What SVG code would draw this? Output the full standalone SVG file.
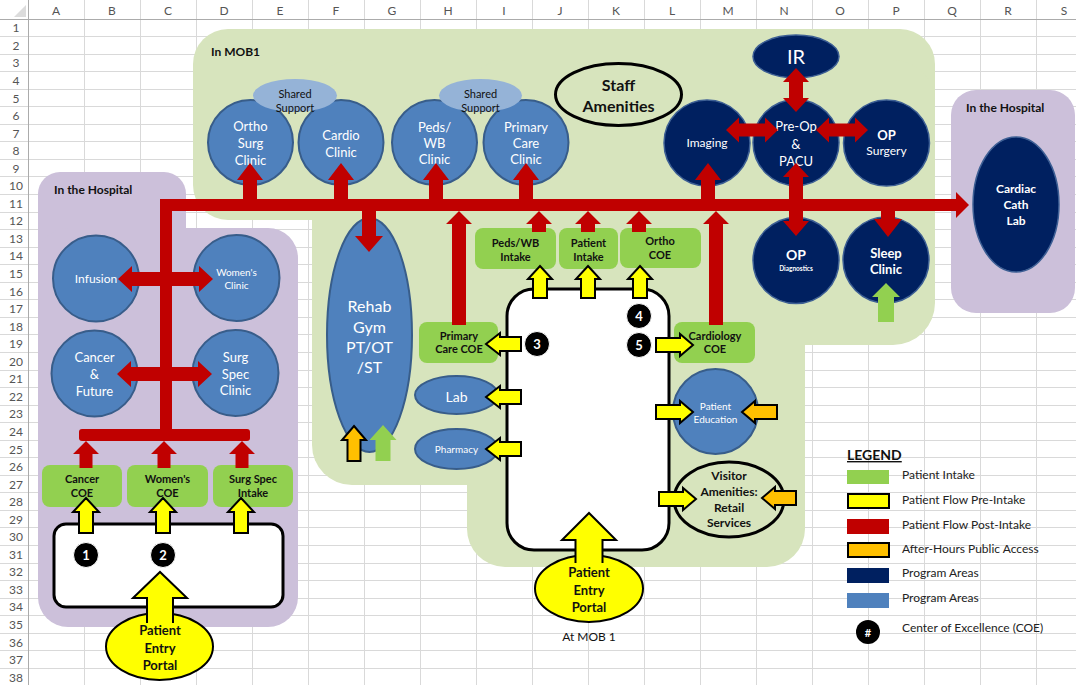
<svg xmlns="http://www.w3.org/2000/svg" width="1076" height="685" viewBox="0 0 1076 685">
<style>
text{font-family:Lato,"Liberation Sans",sans-serif;text-anchor:middle}
.hd{font-size:12px;fill:#555}
.w{fill:#fff}
.k{fill:#111}
.b{font-weight:bold}
.mb{fill:#4f81bd;stroke:#385d8a;stroke-width:2}
.nv{fill:#002060;stroke:#3d5f94;stroke-width:1.5}
.ss{fill:#95b3d7}
.gi{fill:#92d050}
.red{fill:#c00000}
.yel{fill:#ffff00;stroke:#000;stroke-width:2}
.ora{fill:#ffc000;stroke:#000;stroke-width:2}
.grn{fill:#92d050}
.wb{fill:#fff;stroke:#000;stroke-width:3}
.num{fill:#000;stroke:#fff;stroke-width:1}
.lg{font-size:12px;fill:#222;text-anchor:start}
</style>
<rect x="0" y="0" width="1076" height="685" fill="#fff"/>
<g id="grid">
<path d="M0,19.5H1076M0,36.5H1076M0,54.5H1076M0,71.5H1076M0,89.5H1076M0,106.5H1076M0,124.5H1076M0,141.5H1076M0,159.5H1076M0,176.5H1076M0,194.5H1076M0,212.5H1076M0,229.5H1076M0,247.5H1076M0,264.5H1076M0,282.5H1076M0,299.5H1076M0,317.5H1076M0,334.5H1076M0,352.5H1076M0,370.5H1076M0,387.5H1076M0,405.5H1076M0,422.5H1076M0,440.5H1076M0,457.5H1076M0,475.5H1076M0,492.5H1076M0,510.5H1076M0,527.5H1076M0,545.5H1076M0,563.5H1076M0,580.5H1076M0,598.5H1076M0,615.5H1076M0,633.5H1076M0,650.5H1076M0,668.5H1076" stroke="#d9d9d9" stroke-width="1"/>
<path d="M28.5,0V685M84.5,0V685M140.5,0V685M196.5,0V685M252.5,0V685M308.5,0V685M364.5,0V685M420.5,0V685M476.5,0V685M532.5,0V685M588.5,0V685M644.5,0V685M700.5,0V685M756.5,0V685M812.5,0V685M868.5,0V685M924.5,0V685M980.5,0V685M1036.5,0V685" stroke="#d9d9d9" stroke-width="1"/>
<path d="M0,19.5H1076M28.5,0V685" stroke="#ababab" stroke-width="1"/>
<polygon points="14,17 26,17 26,5" fill="#dcdcdc"/>
<g class="hd">
<text x="56" y="15">A</text><text x="112" y="15">B</text><text x="168" y="15">C</text><text x="224" y="15">D</text><text x="280" y="15">E</text><text x="336" y="15">F</text><text x="392" y="15">G</text><text x="448" y="15">H</text><text x="504" y="15">I</text><text x="560" y="15">J</text><text x="616" y="15">K</text><text x="672" y="15">L</text><text x="728" y="15">M</text><text x="784" y="15">N</text><text x="840" y="15">O</text><text x="896" y="15">P</text><text x="952" y="15">Q</text><text x="1008" y="15">R</text><text x="1064" y="15">S</text>
</g>
<g class="hd">
<text x="16" y="32.3">1</text><text x="16" y="49.8">2</text><text x="16" y="67.4">3</text><text x="16" y="84.9">4</text><text x="16" y="102.5">5</text><text x="16" y="120">6</text><text x="16" y="137.6">7</text><text x="16" y="155.1">8</text><text x="16" y="172.7">9</text><text x="16" y="190.2">10</text><text x="16" y="207.8">11</text><text x="16" y="225.3">12</text><text x="16" y="242.9">13</text><text x="16" y="260.4">14</text><text x="16" y="278">15</text><text x="16" y="295.5">16</text><text x="16" y="313.1">17</text><text x="16" y="330.6">18</text><text x="16" y="348.2">19</text><text x="16" y="365.7">20</text><text x="16" y="383.3">21</text><text x="16" y="400.8">22</text><text x="16" y="418.4">23</text><text x="16" y="435.9">24</text><text x="16" y="453.5">25</text><text x="16" y="471">26</text><text x="16" y="488.6">27</text><text x="16" y="506.1">28</text><text x="16" y="523.7">29</text><text x="16" y="541.2">30</text><text x="16" y="558.8">31</text><text x="16" y="576.3">32</text><text x="16" y="593.9">33</text><text x="16" y="611.4">34</text><text x="16" y="629">35</text><text x="16" y="646.5">36</text><text x="16" y="664.1">37</text><text x="16" y="681.6">38</text>
</g>
</g>
<g id="zones">
<g id="mob1-zone" fill="#d7e4bd">
<rect x="193" y="29" width="742" height="191" rx="35"/>
<rect x="312" y="60" width="623" height="285" rx="42"/>
<rect x="312" y="60" width="493" height="425" rx="40"/>
<rect x="467" y="60" width="338" height="507" rx="38"/>
</g>
<g id="hospital-left-zone" fill="#ccc0da">
<rect x="38" y="172" width="148" height="300" rx="22"/>
<rect x="38" y="228" width="260" height="399" rx="30"/>
</g>
<rect id="hospital-right-zone" x="951" y="90" width="124" height="223" rx="25" fill="#ccc0da"/>
<text class="b k" x="211" y="56" style="font-size:12px;text-anchor:start">In MOB1</text>
<text class="b k" x="54" y="194" style="font-size:12px;text-anchor:start">In the Hospital</text>
<text class="b k" x="966" y="112" style="font-size:12px;text-anchor:start">In the Hospital</text>
</g>
<g id="nodes">
<g id="ortho-surg-clinic"><circle class="mb" cx="250.5" cy="142.5" r="42.5"/><text class="w" style="font-size:13px"><tspan x="250.5" y="131">Ortho</tspan><tspan x="250.5" y="148">Surg</tspan><tspan x="250.5" y="165">Clinic</tspan></text></g>
<g id="cardio-clinic"><circle class="mb" cx="341" cy="142.5" r="42.5"/><text class="w" style="font-size:13px"><tspan x="341" y="139.5">Cardio</tspan><tspan x="341" y="156.5">Clinic</tspan></text></g>
<g id="peds-wb-clinic"><circle class="mb" cx="434.5" cy="142.5" r="42.5"/><text class="w" style="font-size:13px"><tspan x="434.5" y="131.5">Peds/</tspan><tspan x="434.5" y="148">WB</tspan><tspan x="434.5" y="163.5">Clinic</tspan></text></g>
<g id="primary-care-clinic"><circle class="mb" cx="526" cy="142.5" r="42.5"/><text class="w" style="font-size:13px"><tspan x="526" y="131.5">Primary</tspan><tspan x="526" y="148">Care</tspan><tspan x="526" y="163.5">Clinic</tspan></text></g>
<g id="shared-support-1"><ellipse class="ss" cx="295" cy="95.5" rx="42" ry="16.5"/><text class="k" style="font-size:11px"><tspan x="295" y="98">Shared</tspan><tspan x="295" y="112">Support</tspan></text></g>
<g id="shared-support-2"><ellipse class="ss" cx="480.5" cy="95.5" rx="41.5" ry="16.5"/><text class="k" style="font-size:11px"><tspan x="480.5" y="98">Shared</tspan><tspan x="480.5" y="112">Support</tspan></text></g>
<g id="staff-amenities"><ellipse cx="618.5" cy="94.5" rx="63" ry="31" fill="none" stroke="#000" stroke-width="3"/><text class="b k" style="font-size:16px"><tspan x="618.5" y="90.5">Staff</tspan><tspan x="618.5" y="111.5">Amenities</tspan></text></g>
<g id="imaging"><circle class="nv" cx="707" cy="143" r="43"/><text class="w" x="707" y="147" style="font-size:12px">Imaging</text></g>
<g id="ir"><ellipse class="nv" cx="796" cy="56.5" rx="43" ry="21.5"/><text class="w" x="796" y="64" style="font-size:20px">IR</text></g>
<g id="pre-op-pacu"><circle class="nv" cx="796" cy="142.5" r="43"/><text class="w" style="font-size:13px"><tspan x="796" y="130.5">Pre-Op</tspan><tspan x="796" y="148.5">&amp;</tspan><tspan x="796" y="165.5">PACU</tspan></text></g>
<g id="op-surgery"><circle class="nv" cx="886.5" cy="143" r="43"/><text class="w"><tspan class="b" x="886.5" y="139.5" style="font-size:13px">OP</tspan><tspan x="886.5" y="155" style="font-size:12px">Surgery</tspan></text></g>
<g id="cardiac-cath-lab"><ellipse class="nv" cx="1016" cy="204.5" rx="43" ry="67.5"/><text class="w b" style="font-size:12px"><tspan x="1016" y="193">Cardiac</tspan><tspan x="1016" y="209">Cath</tspan><tspan x="1016" y="225">Lab</tspan></text></g>
<g id="op-diagnostics"><circle class="nv" cx="796" cy="260.5" r="43"/><text class="w b"><tspan x="796" y="260" style="font-size:14px">OP</tspan><tspan x="796" y="271" style="font-size:6.5px">Diagnostics</tspan></text></g>
<g id="sleep-clinic"><circle class="nv" cx="886" cy="260" r="43"/><text class="w b" style="font-size:13px"><tspan x="886" y="257.5">Sleep</tspan><tspan x="886" y="273.5">Clinic</tspan></text></g>
<g id="infusion"><circle class="mb" cx="96" cy="278.5" r="43"/><text class="w" x="96" y="283" style="font-size:12px">Infusion</text></g>
<g id="womens-clinic"><circle class="mb" cx="236.5" cy="278" r="43"/><text class="w" style="font-size:10px"><tspan x="236.5" y="275.5">Women's</tspan><tspan x="236.5" y="288.5">Clinic</tspan></text></g>
<g id="cancer-future"><circle class="mb" cx="94.5" cy="373.5" r="43"/><text class="w" style="font-size:13px"><tspan x="94.5" y="361.5">Cancer</tspan><tspan x="94.5" y="378.5">&amp;</tspan><tspan x="94.5" y="395.5">Future</tspan></text></g>
<g id="surg-spec-clinic"><circle class="mb" cx="235.5" cy="373" r="43"/><text class="w" style="font-size:13px"><tspan x="235.5" y="362">Surg</tspan><tspan x="235.5" y="378.5">Spec</tspan><tspan x="235.5" y="394.5">Clinic</tspan></text></g>
<g id="rehab-gym"><ellipse class="mb" cx="369.5" cy="335" rx="42.5" ry="117"/><text class="w" style="font-size:16px"><tspan x="369.5" y="311.5">Rehab</tspan><tspan x="369.5" y="332.5">Gym</tspan><tspan x="369.5" y="352.5">PT/OT</tspan><tspan x="369.5" y="372.5">/ST</tspan></text></g>
<g id="lab"><ellipse class="mb" cx="456.5" cy="395" rx="41.5" ry="19"/><text class="w" x="456.5" y="402" style="font-size:14px">Lab</text></g>
<g id="pharmacy"><ellipse class="mb" cx="456.5" cy="449" rx="41.5" ry="20"/><text class="w" x="456.5" y="452.5" style="font-size:10px">Pharmacy</text></g>
<g id="patient-education"><circle class="mb" cx="715.5" cy="411.5" r="42.5"/><text class="w" style="font-size:10px"><tspan x="715.5" y="409.5">Patient</tspan><tspan x="715.5" y="422.5">Education</tspan></text></g>
<g id="visitor-amenities"><ellipse cx="729" cy="499.5" rx="55" ry="37.5" fill="#d7e4bd" stroke="#000" stroke-width="3"/><text class="b k" style="font-size:12px"><tspan x="729" y="480">Visitor</tspan><tspan x="729" y="496">Amenities:</tspan><tspan x="729" y="512">Retail</tspan><tspan x="729" y="527">Services</tspan></text></g>
<g id="peds-wb-intake"><rect class="gi" x="475" y="228" width="81" height="41" rx="8"/><text class="b k" style="font-size:11px"><tspan x="515.5" y="247">Peds/WB</tspan><tspan x="515.5" y="261">Intake</tspan></text></g>
<g id="patient-intake"><rect class="gi" x="559" y="228" width="59" height="41" rx="8"/><text class="b k" style="font-size:11px"><tspan x="588.5" y="247">Patient</tspan><tspan x="588.5" y="261">Intake</tspan></text></g>
<g id="ortho-coe"><rect class="gi" x="620" y="228" width="81" height="40" rx="8"/><text class="b k" style="font-size:11px"><tspan x="660" y="245">Ortho</tspan><tspan x="660" y="259">COE</tspan></text></g>
<g id="primary-care-coe"><rect class="gi" x="419" y="322" width="79" height="41" rx="8"/><text class="b k" style="font-size:11px"><tspan x="459" y="340">Primary</tspan><tspan x="459" y="353">Care COE</tspan></text></g>
<g id="cardiology-coe"><rect class="gi" x="674" y="322" width="81" height="41" rx="8"/><text class="b k" style="font-size:11px"><tspan x="715" y="340">Cardiology</tspan><tspan x="715" y="353">COE</tspan></text></g>
<g id="cancer-coe"><rect class="gi" x="42" y="465" width="80" height="42" rx="8"/><text class="b k" style="font-size:11px"><tspan x="82" y="483">Cancer</tspan><tspan x="82" y="497">COE</tspan></text></g>
<g id="womens-coe"><rect class="gi" x="127" y="465" width="81" height="42" rx="8"/><text class="b k" style="font-size:11px"><tspan x="167.5" y="483">Women's</tspan><tspan x="167.5" y="497">COE</tspan></text></g>
<g id="surg-spec-intake"><rect class="gi" x="213" y="465" width="80" height="42" rx="8"/><text class="b k" style="font-size:11px"><tspan x="253" y="483">Surg Spec</tspan><tspan x="253" y="497">Intake</tspan></text></g>
<g id="hospital-entry-hall"><rect class="wb" x="54" y="524" width="229" height="83" rx="12"/></g>
<g id="mob-entry-hall"><rect class="wb" x="507" y="289" width="162" height="261" rx="27"/></g>
<g id="hospital-entry-portal"><ellipse cx="159.5" cy="646.5" rx="53.5" ry="33.5" fill="#ffff00" stroke="#000" stroke-width="2"/></g>
<g id="mob-entry-portal"><ellipse cx="589" cy="588.5" rx="54" ry="33.5" fill="#ffff00" stroke="#000" stroke-width="2"/></g>
</g>
<g id="connectors">
<rect class="red" x="160" y="199" width="796" height="12"/>
<polygon class="red" points="956,192 969,205 956,218"/>
<rect class="red" x="160" y="199" width="12" height="242"/>
<rect class="red" x="79" y="429" width="171" height="12" rx="3"/>
<polygon class="red" points="118,279 132,266 132,272 199,272 199,266 213,279 199,292 199,286 132,286 132,292"/>
<polygon class="red" points="117,374 131,361 131,367 198,367 198,361 212,374 198,387 198,381 131,381 131,387"/>
<polygon class="red" points="86,441 99,454 92.5,454 92.5,468 79.5,468 79.5,454 73,454"/>
<polygon class="red" points="164,441 177,454 170.5,454 170.5,468 157.5,468 157.5,454 151,454"/>
<polygon class="red" points="242,441 255,454 248.5,454 248.5,468 235.5,468 235.5,454 229,454"/>
<polygon class="red" points="250,163 263,180 257,180 257,200 243,200 243,180 237,180"/>
<polygon class="red" points="341,163 354,180 348,180 348,200 334,200 334,180 328,180"/>
<polygon class="red" points="436,163 449,180 443,180 443,200 429,200 429,180 423,180"/>
<polygon class="red" points="526,163 539,180 533,180 533,200 519,200 519,180 513,180"/>
<polygon class="red" points="708,163 721,180 715,180 715,200 701,200 701,180 695,180"/>
<polygon class="red" points="459,211 472,224 466,224 466,325 452,325 452,224 446,224"/>
<polygon class="red" points="539,211 552,224 546,224 546,232 532,232 532,224 526,224"/>
<polygon class="red" points="588,211 601,224 595,224 595,232 581,232 581,224 575,224"/>
<polygon class="red" points="639,211 652,224 646,224 646,232 632,232 632,224 626,224"/>
<polygon class="red" points="716,211 729,224 723,224 723,325 709,325 709,224 703,224"/>
<polygon class="red" points="369,252 383,236 376,236 376,205 362,205 362,236 355,236"/>
<polygon class="red" points="888,237 902,219 895,219 895,205 881,205 881,219 874,219"/>
<polygon class="red" points="796,68 809,82 803,82 803,98 809,98 796,112 783,98 789,98 789,82 783,82"/>
<polygon class="red" points="796,163 809,177 803,177 803,221 809,221 796,236 783,221 789,221 789,177 783,177"/>
<polygon class="red" points="726,130 739,117.5 739,123.5 765,123.5 765,117.5 778,130 765,142.5 765,136.5 739,136.5 739,142.5"/>
<polygon class="red" points="816,130 829,117.5 829,123.5 855,123.5 855,117.5 868,130 855,142.5 855,136.5 829,136.5 829,142.5"/>
<polygon class="grn" points="886,283 900,297 894,297 894,322 878,322 878,297 872,297"/>
<polygon class="grn" points="383,425 396.5,440 390.5,440 390.5,461 375.5,461 375.5,440 369.5,440"/>
<polygon class="ora" points="354,426 366,440 360.5,440 360.5,461 347.5,461 347.5,440 342,440"/>
<polygon class="yel" points="86,498 99,512 93,512 93,533 79,533 79,512 73,512"/>
<polygon class="yel" points="163,498 176,512 170,512 170,533 156,533 156,512 150,512"/>
<polygon class="yel" points="241,498 254,512 248,512 248,533 234,533 234,512 228,512"/>
<path class="yel" d="M147,623 L147,598 L133,598 L160,572 L187,598 L173,598 L173,623"/>
<path class="yel" d="M575.5,563 L575.5,540 L562,540 L589,513 L616,540 L602.5,540 L602.5,563"/>
<polygon class="yel" points="540,266 552,279 547,279 547,298 533,298 533,279 528,279"/>
<polygon class="yel" points="588,266 600,279 595,279 595,298 581,298 581,279 576,279"/>
<polygon class="yel" points="640,266 652,279 647,279 647,298 633,298 633,279 628,279"/>
<polygon class="yel" points="486,344 500,333 500,337 521,337 521,351 500,351 500,355"/>
<polygon class="yel" points="486,397 500,386 500,390 521,390 521,404 500,404 500,408"/>
<polygon class="yel" points="486,449 500,438 500,442 521,442 521,456 500,456 500,460"/>
<polygon class="yel" points="693,345 680,334 680,338 656,338 656,352 680,352 680,356"/>
<polygon class="yel" points="693,412 680,401 680,405 656,405 656,419 680,419 680,423"/>
<polygon class="yel" points="696,499 683,488 683,492 659,492 659,506 683,506 683,510"/>
<polygon class="ora" points="742,412 755,401 755,405 777,405 777,419 755,419 755,423"/>
<polygon class="ora" points="762,498 775,487 775,491 796,491 796,505 775,505 775,509"/>
</g>
<g id="portal-labels">
<text class="b k" style="font-size:13px"><tspan x="160" y="634.5">Patient</tspan><tspan x="160" y="652.5">Entry</tspan><tspan x="160" y="669.5">Portal</tspan></text>
<text class="b k" style="font-size:13px"><tspan x="589" y="576.5">Patient</tspan><tspan x="589" y="594.5">Entry</tspan><tspan x="589" y="611.5">Portal</tspan></text>
<text class="k" x="589" y="641" style="font-size:12px">At MOB 1</text>
</g>
<g id="coe-markers">
<g id="coe-1"><circle class="num" cx="86" cy="555" r="12.5"/><text class="w b" x="86" y="560" style="font-size:13px">1</text></g>
<g id="coe-2"><circle class="num" cx="163" cy="555" r="12.5"/><text class="w b" x="163" y="560" style="font-size:13px">2</text></g>
<g id="coe-3"><circle class="num" cx="537" cy="344" r="12.5"/><text class="w b" x="537" y="349" style="font-size:13px">3</text></g>
<g id="coe-4"><circle class="num" cx="639" cy="316" r="12.5"/><text class="w b" x="639" y="321" style="font-size:13px">4</text></g>
<g id="coe-5"><circle class="num" cx="639" cy="345" r="12.5"/><text class="w b" x="639" y="350" style="font-size:13px">5</text></g>
</g>
<g id="legend">
<text class="b k" x="847" y="460" style="font-size:14px;text-anchor:start;text-decoration:underline">LEGEND</text>
<rect x="847" y="470" width="42" height="14" fill="#92d050"/>
<rect x="848" y="494" width="41" height="14" fill="#ffff00" stroke="#000" stroke-width="2"/>
<rect x="847" y="519" width="42" height="15" fill="#c00000"/>
<rect x="848" y="543" width="41" height="14" fill="#ffc000" stroke="#000" stroke-width="2"/>
<rect x="847" y="568" width="42" height="15" fill="#002060"/>
<rect x="847" y="593" width="42" height="15" fill="#4f81bd"/>
<circle cx="868" cy="632" r="12" fill="#000"/>
<text class="w b" x="868" y="636.5" style="font-size:11px">#</text>
<text class="lg" x="902" y="479">Patient Intake</text>
<text class="lg" x="902" y="504">Patient Flow Pre-Intake</text>
<text class="lg" x="902" y="529">Patient Flow Post-Intake</text>
<text class="lg" x="902" y="553">After-Hours Public Access</text>
<text class="lg" x="902" y="577">Program Areas</text>
<text class="lg" x="902" y="602">Program Areas</text>
<text class="lg" x="902" y="632">Center of Excellence (COE)</text>
</g>
</svg>
